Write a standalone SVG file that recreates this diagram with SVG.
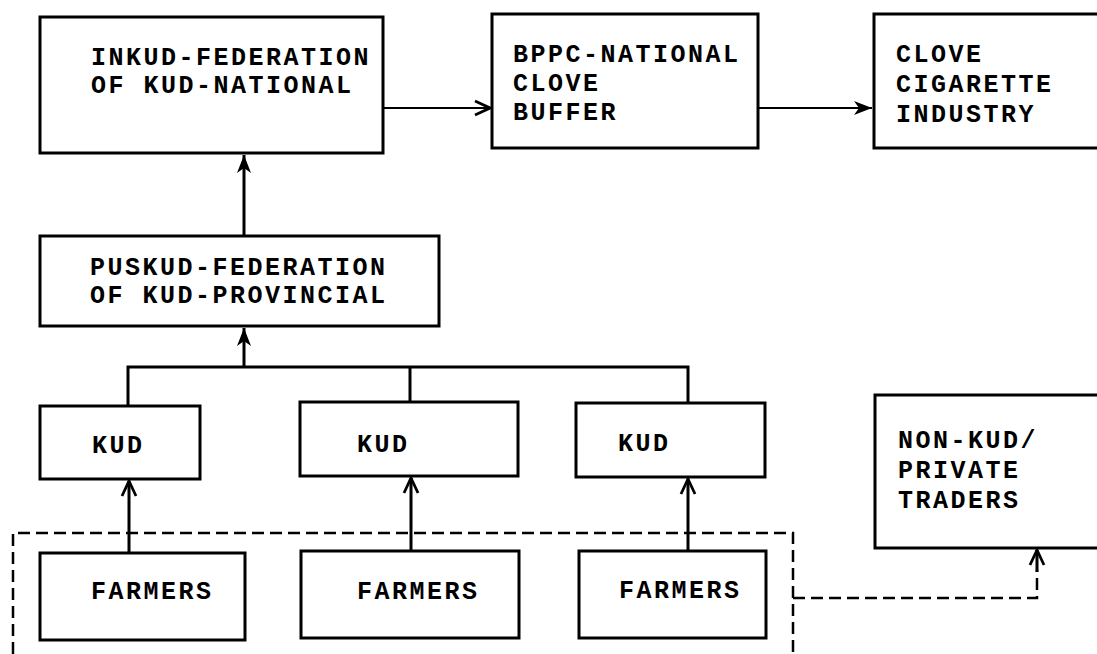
<svg xmlns="http://www.w3.org/2000/svg" width="1097" height="654" viewBox="0 0 1097 654">
  <style>
    .box { fill: #ffffff; stroke: #000000; stroke-width: 3; }
    .lbl { font-family: "Liberation Mono", "Courier New", monospace; font-size: 25px; font-weight: bold; letter-spacing: 2.5px; fill: #000000; }
    .ln { fill: none; stroke: #000000; stroke-width: 3; }
    .thin { fill: none; stroke: #000000; stroke-width: 2; }
    .dash { fill: none; stroke: #000000; stroke-width: 2.5; stroke-dasharray: 12 6; }
  </style>
  <defs>
    <marker id="solid" markerUnits="userSpaceOnUse" markerWidth="20" markerHeight="16" refX="18" refY="8" orient="auto">
      <path d="M0,1 L18,8 L0,15 L5,8 Z" fill="#000000"/>
    </marker>
    <marker id="open" markerUnits="userSpaceOnUse" markerWidth="20" markerHeight="18" refX="17" refY="9" orient="auto">
      <path d="M2,2 L17,9 L2,16" fill="none" stroke="#000000" stroke-width="2.8"/>
    </marker>
  </defs>
  <rect width="1097" height="654" fill="#ffffff"/>

  <g id="connectors">
    <path class="thin" d="M383,108 L490,108" marker-end="url(#open)"/>
    <path class="thin" d="M758,108 L872,108" marker-end="url(#solid)"/>
    <path class="ln" d="M244,236 L244,155" marker-end="url(#solid)"/>
    <path class="ln" d="M128,406 L128,367 L688,367 L688,403"/>
    <path class="ln" d="M410,367 L410,402"/>
    <path class="ln" d="M244,367 L244,328" marker-end="url(#solid)"/>
    <path class="dash" d="M13,654 L13,533 L793,533 L793,654"/>
    <path class="ln" d="M129,553 L129,481" marker-end="url(#open)"/>
    <path class="ln" d="M411,551 L411,478" marker-end="url(#open)"/>
    <path class="ln" d="M688,551 L688,479" marker-end="url(#open)"/>
    <path class="dash" d="M793,598 L1037,598 L1037,570"/>
    <path class="ln" d="M1037,572 L1037,550" marker-end="url(#open)"/>
  </g>

  <g id="inkud">
    <rect class="box" x="40" y="17" width="343" height="136"/>
    <text class="lbl" x="91" y="65">INKUD-FEDERATION</text>
    <text class="lbl" x="91" y="93">OF KUD-NATIONAL</text>
  </g>
  <g id="bppc">
    <rect class="box" x="492" y="14" width="266" height="134"/>
    <text class="lbl" x="513" y="62">BPPC-NATIONAL</text>
    <text class="lbl" x="513" y="91">CLOVE</text>
    <text class="lbl" x="513" y="120">BUFFER</text>
  </g>
  <g id="industry">
    <rect class="box" x="874" y="14" width="240" height="134"/>
    <text class="lbl" x="896" y="62">CLOVE</text>
    <text class="lbl" x="896" y="92">CIGARETTE</text>
    <text class="lbl" x="896" y="122">INDUSTRY</text>
  </g>
  <g id="puskud">
    <rect class="box" x="40" y="236" width="399" height="90"/>
    <text class="lbl" x="90" y="275">PUSKUD-FEDERATION</text>
    <text class="lbl" x="90" y="303">OF KUD-PROVINCIAL</text>
  </g>
  <g id="kud1">
    <rect class="box" x="40" y="406" width="160" height="73"/>
    <text class="lbl" x="92" y="453">KUD</text>
  </g>
  <g id="kud2">
    <rect class="box" x="300" y="402" width="218" height="74"/>
    <text class="lbl" x="357" y="452">KUD</text>
  </g>
  <g id="kud3">
    <rect class="box" x="576" y="403" width="189" height="74"/>
    <text class="lbl" x="618" y="451">KUD</text>
  </g>
  <g id="nonkud">
    <rect class="box" x="875" y="395" width="240" height="153"/>
    <text class="lbl" x="898" y="448">NON-KUD/</text>
    <text class="lbl" x="898" y="478">PRIVATE</text>
    <text class="lbl" x="898" y="508">TRADERS</text>
  </g>
  <g id="farmers1">
    <rect class="box" x="40" y="553" width="205" height="87"/>
    <text class="lbl" x="91" y="599">FARMERS</text>
  </g>
  <g id="farmers2">
    <rect class="box" x="301" y="551" width="218" height="87"/>
    <text class="lbl" x="357" y="599">FARMERS</text>
  </g>
  <g id="farmers3">
    <rect class="box" x="579" y="551" width="187" height="87"/>
    <text class="lbl" x="619" y="598">FARMERS</text>
  </g>
</svg>
